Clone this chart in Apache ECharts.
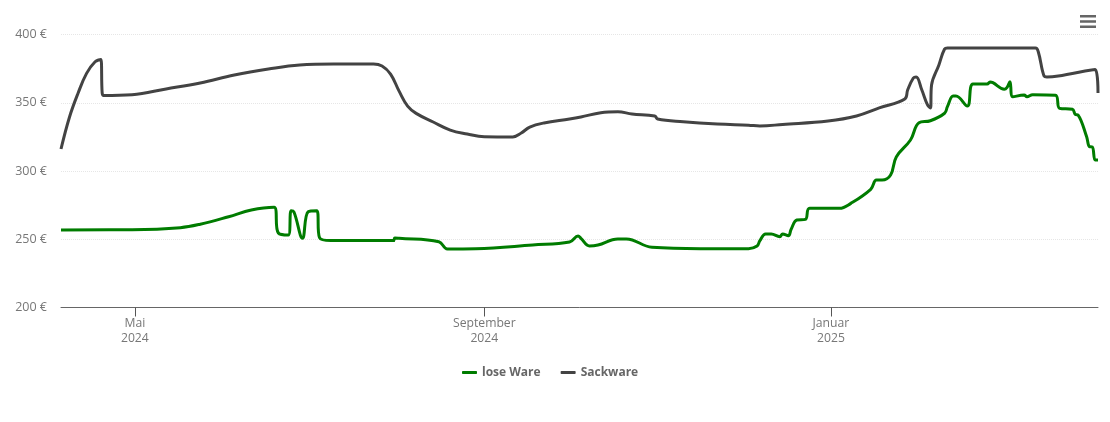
<!DOCTYPE html>
<html>
<head>
<meta charset="utf-8">
<title>Preisentwicklung</title>
<script src="https://cdn.jsdelivr.net/npm/echarts@6/dist/echarts.min.js"></script>
<style>
    html, body { margin: 0; padding: 0; background: #fff; }
    #chart { width: 1110px; height: 422px; }
</style>
</head>
<body>
<div id="chart"></div>
<script>
let loseWare = [
    ['2024-04-05', 256.8], ['2024-04-30', 257], ['2024-05-17', 258.5], ['2024-05-24', 261],
    ['2024-06-03', 266.5], ['2024-06-11', 271.4], ['2024-06-19', 273.4], ['2024-06-20 12:00', 254.6],
    ['2024-06-24', 253.1], ['2024-06-25', 270.9], ['2024-06-26', 270], ['2024-06-29', 250.7],
    ['2024-07-01', 270.2], ['2024-07-04', 270.9], ['2024-07-05', 251.1], ['2024-07-09', 249],
    ['2024-07-31', 249], ['2024-07-31 12:00', 250.9], ['2024-08-02', 250.7], ['2024-08-16', 248.2],
    ['2024-08-19', 242.9], ['2024-08-29', 243.1], ['2024-09-18', 245.8], ['2024-10-01', 248],
    ['2024-10-04', 252.4], ['2024-10-05', 250.7], ['2024-10-08', 245.1], ['2024-10-11', 245.8],
    ['2024-10-18', 250.2], ['2024-10-21', 250.2], ['2024-10-30', 244.1], ['2024-11-16', 243.1],
    ['2024-12-03', 243.1], ['2024-12-06', 245], ['2024-12-07', 249], ['2024-12-09', 253.9],
    ['2024-12-11', 253.9], ['2024-12-14', 251.9], ['2024-12-15', 253.9], ['2024-12-17', 252.6],
    ['2024-12-18', 257.3], ['2024-12-20', 264.1], ['2024-12-23', 264.6], ['2024-12-24 12:00', 272.7],
    ['2025-01-04', 272.7], ['2025-01-08', 276.3], ['2025-01-15', 286.6], ['2025-01-17', 293.4],
    ['2025-01-19', 293.4], ['2025-01-22', 297.1], ['2025-01-24', 310.3], ['2025-01-29', 322.7],
    ['2025-02-01', 335.4], ['2025-02-05', 336.8], ['2025-02-10', 342.3], ['2025-02-11', 347.1],
    ['2025-02-13', 354.9], ['2025-02-14', 354.9], ['2025-02-18', 347.6], ['2025-02-20', 363.7],
    ['2025-02-25', 363.7], ['2025-02-26', 365.2], ['2025-02-27', 364.7], ['2025-03-03', 359.9],
    ['2025-03-04', 361.3], ['2025-03-05', 365.4], ['2025-03-06', 354.4], ['2025-03-10', 355.7],
    ['2025-03-11', 354.4], ['2025-03-13', 355.9], ['2025-03-21', 355.5], ['2025-03-22 12:00', 345.9],
    ['2025-03-27', 345.2], ['2025-03-28', 341.5], ['2025-03-29', 341], ['2025-04-01', 325.1],
    ['2025-04-02', 317.8], ['2025-04-03', 317.6], ['2025-04-04', 308], ['2025-04-05', 308]
];

let sackware = [
    ['2024-04-05', 316.1], ['2024-04-08', 339.6], ['2024-04-11', 357], ['2024-04-14', 371.5],
    ['2024-04-17', 380], ['2024-04-19', 381.7], ['2024-04-19 12:00', 357], ['2024-04-20', 355.3],
    ['2024-04-30', 355.9], ['2024-05-12', 360.1], ['2024-05-24', 364.5], ['2024-06-05', 370.3],
    ['2024-06-17', 374.7], ['2024-06-28', 377.7], ['2024-07-10', 378.4], ['2024-07-24', 378.4],
    ['2024-07-27', 376.9], ['2024-07-30', 371], ['2024-08-02', 358.5], ['2024-08-05', 347.5],
    ['2024-08-08', 342.2], ['2024-08-14', 335.9], ['2024-08-20', 330], ['2024-08-26', 327.1],
    ['2024-09-01', 325.1], ['2024-09-11', 324.9], ['2024-09-14', 327.8], ['2024-09-17', 332.2],
    ['2024-09-22', 335.2], ['2024-10-01', 338.1], ['2024-10-05', 339.6], ['2024-10-12', 342.7],
    ['2024-10-18', 343.4], ['2024-10-23', 341.8], ['2024-10-31', 340.3], ['2024-11-01', 338.1],
    ['2024-11-10', 336.1], ['2024-11-22', 334.4], ['2024-12-03', 333.5], ['2024-12-07', 333],
    ['2024-12-15', 334.1], ['2024-12-31', 336.6], ['2025-01-10', 340.3], ['2025-01-18', 346.2],
    ['2025-01-27', 352.7], ['2025-01-28', 359.3], ['2025-01-30', 368.1], ['2025-01-31', 368.9],
    ['2025-02-02', 359.3], ['2025-02-04', 348.4], ['2025-02-05', 346.2], ['2025-02-05 10:00', 363],
    ['2025-02-08', 377.7], ['2025-02-10', 389.4], ['2025-02-11', 390.1], ['2025-03-14', 390.1],
    ['2025-03-15', 387.2], ['2025-03-17', 369.6], ['2025-03-18', 368.9], ['2025-03-22', 369.6],
    ['2025-04-04', 374.4], ['2025-04-05', 357.1]
];

// value axis with timestamps, the time axis breaks on customValues
function ts(d) {
    return new Date(d.length > 10 ? d.replace(' ', 'T') : d + 'T00:00:00').getTime();
}
function toPoints(rows) {
    return rows.map(function (r) { return [ts(r[0]), r[1]]; });
}

let monthNames = { 4: 'Mai', 8: 'September', 0: 'Januar' };
let monthTicks = ['2024-05-01', '2024-09-01', '2025-01-01'].map(ts);

let myChart = echarts.init(document.getElementById('chart'));
let option = {
    backgroundColor: '#fff',
    color: ['#007c00', '#434343'],
    animation: false,
    textStyle: { fontFamily: 'Open Sans' },
    tooltip: {
        trigger: 'axis'
    },
    toolbox: {
        right: -1,
        top: 0,
        itemSize: 16,
        feature: {
            myMenu: {
                show: true,
                title: 'Menü',
                icon: 'path://M0 0H16V2.6H0ZM0 5.2H16V7.8H0ZM0 10.4H16V13H0Z',
                onclick: function () {}
            }
        },
        iconStyle: { color: '#666', borderWidth: 0 }
    },
    legend: {
        top: 361.5,
        left: 457,
        itemWidth: 15,
        itemHeight: 3,
        itemGap: 20,
        icon: 'roundRect',
        textStyle: { color: '#666', fontSize: 12, fontWeight: 'bold', fontFamily: 'Open Sans' },
        data: ['lose Ware', 'Sackware']
    },
    grid: {
        left: 61,
        right: 12,
        top: 34.5,
        bottom: 114.5
    },
    xAxis: {
        type: 'value',
        min: ts('2024-04-05'),
        max: ts('2025-04-05'),
        splitLine: { show: false },
        axisLine: { lineStyle: { color: '#666', width: 1 } },
        axisTick: {
            show: true,
            customValues: monthTicks,
            length: 9,
            lineStyle: { color: '#555' }
        },
        axisLabel: {
            show: true,
            customValues: monthTicks,
            margin: 9,
            color: '#777',
            fontSize: 12.2,
            lineHeight: 15,
            hideOverlap: false,
            formatter: function (value) {
                let d = new Date(value);
                return monthNames[d.getMonth()] + '\n' + d.getFullYear();
            }
        }
    },
    yAxis: {
        type: 'value',
        min: 200,
        max: 400,
        interval: 50,
        axisLine: { show: false },
        axisTick: { show: false },
        axisLabel: {
            show: true,
            margin: 14,
            padding: [2, 0, 0, 0],
            color: '#777',
            fontSize: 12.5,
            formatter: '{value} €'
        },
        splitLine: {
            show: true,
            lineStyle: {
                color: ['#e6e6e6'],
                width: 1,
                type: 'dotted'
            }
        }
    },
    series: [{
        name: 'lose Ware',
        type: 'line',
        smooth: 0.4,
        showSymbol: false,
        lineStyle: { width: 3 },
        data: toPoints(loseWare)
    }, {
        name: 'Sackware',
        type: 'line',
        smooth: 0.4,
        showSymbol: false,
        lineStyle: { width: 3 },
        data: toPoints(sackware)
    }]
};
myChart.setOption(option);
</script>
</body>
</html>
